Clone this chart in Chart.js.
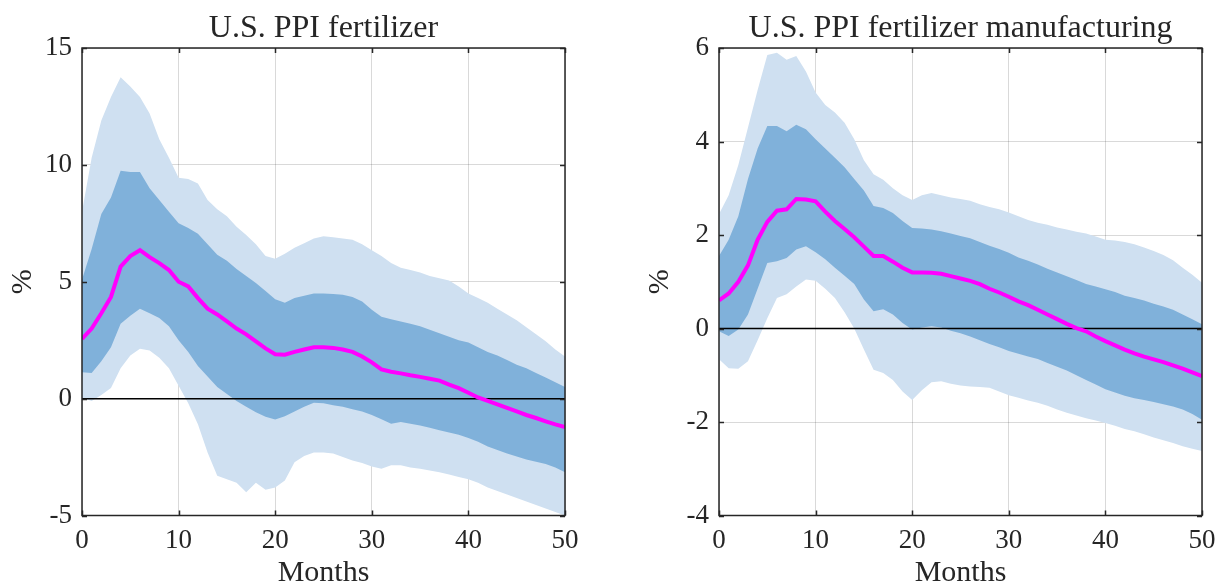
<!DOCTYPE html>
<html>
<head>
<meta charset="utf-8">
<script src="https://cdn.jsdelivr.net/npm/chart.js@4"></script>
<style>
  html, body { margin: 0; padding: 0; background: #fff; }
  .wrap { display: flex; width: 1225px; height: 585px; }
  .panel { position: relative; height: 585px; }
</style>
</head>
<body>
<div class="wrap">
  <div class="panel" style="width:612px"><canvas id="chartLeft"></canvas></div>
  <div class="panel" style="width:613px"><canvas id="chartRight"></canvas></div>
</div>
<script>
// horizon in months
const months = [0,1,2,3,4,5,6,7,8,9,10,11,12,13,14,15,16,17,18,19,20,21,22,23,24,25,
  26,27,28,29,30,31,32,33,34,35,36,37,38,39,40,41,42,43,44,45,46,47,48,49,50];
const xTicks = [0, 10, 20, 30, 40, 50];

// U.S. PPI fertilizer
const leftTicks = [-5, 0, 5, 10, 15];
const leftMedian = [2.55,3.0,3.65,4.35,5.65,6.1,6.35,6.05,5.8,5.5,5.0,
  4.8,4.3,3.85,3.6,3.3,3.0,2.75,2.45,2.15,1.9,
  1.88,2.0,2.1,2.2,2.2,2.17,2.1,2.0,1.8,1.55,
  1.25,1.15,1.08,1.0,0.93,0.85,0.77,0.6,0.45,0.25,
  0.05,-0.1,-0.25,-0.4,-0.55,-0.7,-0.83,-0.97,-1.1,-1.22];
const leftDarkHi = [5.1,6.4,7.9,8.6,9.75,9.7,9.7,9.0,8.5,8.0,7.5,
  7.3,7.05,6.6,6.15,5.9,5.55,5.25,4.95,4.6,4.25,
  4.1,4.3,4.4,4.5,4.5,4.48,4.44,4.35,4.15,3.8,
  3.5,3.4,3.3,3.2,3.1,2.95,2.8,2.65,2.5,2.4,
  2.2,2.0,1.85,1.65,1.45,1.3,1.1,0.9,0.7,0.5];
const leftDarkLo = [1.13,1.1,1.6,2.2,3.2,3.55,3.85,3.65,3.45,3.1,2.5,
  2.0,1.4,0.95,0.5,0.2,-0.1,-0.35,-0.58,-0.78,-0.89,
  -0.75,-0.55,-0.35,-0.18,-0.2,-0.28,-0.35,-0.45,-0.55,-0.7,
  -0.88,-1.08,-1.0,-1.08,-1.15,-1.25,-1.35,-1.45,-1.55,-1.68,
  -1.85,-2.05,-2.2,-2.35,-2.48,-2.6,-2.7,-2.8,-2.95,-3.15];
const leftLightHi = [8.0,10.3,11.9,12.9,13.75,13.35,12.9,12.2,11.1,10.3,9.45,
  9.4,9.2,8.5,8.1,7.8,7.35,7.0,6.6,6.1,5.98,
  6.2,6.45,6.65,6.85,6.95,6.9,6.85,6.8,6.6,6.35,
  6.1,5.8,5.6,5.5,5.4,5.25,5.15,5.05,4.8,4.5,
  4.3,4.1,3.85,3.6,3.35,3.05,2.75,2.45,2.1,1.8];
const leftLightLo = [0.05,-0.1,0.15,0.45,1.3,1.85,2.13,2.06,1.75,1.3,0.55,
  -0.2,-1.1,-2.3,-3.3,-3.45,-3.6,-4.0,-3.6,-3.9,-3.8,
  -3.5,-2.72,-2.45,-2.3,-2.3,-2.35,-2.5,-2.65,-2.75,-2.9,
  -3.0,-2.85,-2.85,-2.95,-3.0,-3.08,-3.15,-3.25,-3.35,-3.45,
  -3.6,-3.8,-3.95,-4.1,-4.25,-4.4,-4.55,-4.7,-4.85,-5.0];

// U.S. PPI fertilizer manufacturing
const rightTicks = [-4, -2, 0, 2, 4, 6];
const rightMedian = [0.6,0.75,1.0,1.35,1.9,2.28,2.52,2.55,2.77,2.76,2.72,
  2.5,2.3,2.13,1.95,1.75,1.55,1.55,1.43,1.3,1.2,
  1.2,1.19,1.17,1.12,1.07,1.02,0.95,0.85,0.77,0.68,
  0.58,0.5,0.4,0.3,0.2,0.1,0.01,-0.06,-0.17,-0.27,
  -0.36,-0.45,-0.53,-0.6,-0.66,-0.72,-0.79,-0.86,-0.94,-1.02];
const rightDarkHi = [1.55,1.9,2.4,3.2,3.85,4.33,4.33,4.22,4.36,4.26,4.05,
  3.85,3.65,3.45,3.2,2.95,2.62,2.58,2.47,2.3,2.15,
  2.14,2.12,2.08,2.03,1.98,1.93,1.85,1.77,1.7,1.62,
  1.52,1.45,1.37,1.28,1.2,1.12,1.04,0.95,0.9,0.84,
  0.78,0.7,0.65,0.6,0.53,0.47,0.4,0.3,0.2,0.09];
const rightDarkLo = [-0.06,-0.16,-0.02,0.3,0.85,1.4,1.44,1.51,1.69,1.76,1.63,
  1.48,1.3,1.13,0.95,0.62,0.37,0.41,0.3,0.12,-0.02,
  0.02,0.05,0.02,-0.05,-0.1,-0.17,-0.25,-0.33,-0.4,-0.48,
  -0.54,-0.6,-0.65,-0.74,-0.82,-0.9,-1.0,-1.1,-1.2,-1.3,
  -1.37,-1.44,-1.49,-1.53,-1.57,-1.62,-1.67,-1.73,-1.83,-1.95];
const rightLightHi = [2.45,2.85,3.5,4.3,5.1,5.85,5.9,5.75,5.83,5.5,5.05,
  4.78,4.62,4.4,4.05,3.6,3.3,3.18,3.0,2.85,2.75,
  2.85,2.9,2.85,2.8,2.77,2.73,2.66,2.6,2.55,2.48,
  2.4,2.32,2.26,2.22,2.16,2.12,2.07,2.03,1.97,1.9,
  1.88,1.85,1.8,1.73,1.66,1.57,1.46,1.3,1.15,0.98];
const rightLightLo = [-0.66,-0.85,-0.86,-0.7,-0.25,0.22,0.65,0.73,0.9,1.05,1.02,
  0.85,0.65,0.35,0.0,-0.45,-0.88,-0.95,-1.1,-1.35,-1.53,
  -1.32,-1.15,-1.13,-1.18,-1.22,-1.24,-1.25,-1.27,-1.35,-1.43,
  -1.48,-1.54,-1.59,-1.65,-1.73,-1.8,-1.86,-1.92,-1.97,-2.02,
  -2.08,-2.15,-2.2,-2.26,-2.33,-2.39,-2.45,-2.52,-2.57,-2.62];

const zeros = months.map(() => 0);

const axisColor = '#262626';
const lightBlue = '#cfe0f1';
const darkBlue = '#80b1da';
const serif = '"Liberation Serif", "Times New Roman", serif';

const pts = (vals) => months.map((m, i) => ({ x: m, y: vals[i] }));

// box round the axes with inward tick marks, like the original
const boxPlugin = {
  id: 'boxAxes',
  afterDraw(chart) {
    const { ctx, chartArea: a, scales } = chart;
    ctx.save();
    ctx.strokeStyle = axisColor;
    ctx.lineWidth = 1.5;
    ctx.strokeRect(a.left, a.top, a.right - a.left, a.bottom - a.top);
    ctx.beginPath();
    scales.x.ticks.forEach(t => {
      const px = Math.round(scales.x.getPixelForValue(t.value)) + 0.5;
      ctx.moveTo(px, a.bottom); ctx.lineTo(px, a.bottom - 5);
      ctx.moveTo(px, a.top); ctx.lineTo(px, a.top + 5);
    });
    scales.y.ticks.forEach(t => {
      const py = Math.round(scales.y.getPixelForValue(t.value)) + 0.5;
      ctx.moveTo(a.left, py); ctx.lineTo(a.left + 5, py);
      ctx.moveTo(a.right, py); ctx.lineTo(a.right - 5, py);
    });
    ctx.stroke();
    ctx.restore();
  }
};

function band(vals, color, fill, order) {
  return { data: pts(vals), borderWidth: 0, pointRadius: 0, backgroundColor: color,
           borderColor: color, fill: fill, order: order, tension: 0 };
}

function makePanel(id, title, yTicks, median, dHi, dLo, lHi, lLo, yAxisW, titlePad, padRight) {
  return new Chart(document.getElementById(id), {
    type: 'line',
    data: {
      datasets: [
        { data: pts(median), borderColor: '#ff00ff', borderWidth: 4, pointRadius: 0,
          fill: false, order: 0, tension: 0 },
        { data: pts(zeros), borderColor: '#000', borderWidth: 1.5, pointRadius: 0,
          fill: false, order: 1 },
        band(dHi, darkBlue, '+1', 2),
        band(dLo, darkBlue, false, 3),
        band(lHi, lightBlue, '+1', 4),
        band(lLo, lightBlue, false, 5)
      ]
    },
    options: {
      responsive: true,
      maintainAspectRatio: false,
      animation: false,
      layout: { padding: { top: 0, right: padRight, bottom: 0, left: 0 } },
      plugins: {
        legend: { display: false },
        tooltip: { enabled: false },
        title: {
          display: true, text: title, color: axisColor, fullSize: false,
          font: { family: serif, size: 32, weight: 'normal', lineHeight: 1 },
          padding: { top: 13, bottom: 3 }
        }
      },
      scales: {
        x: {
          type: 'linear', min: 0, max: 50, z: 1,
          afterBuildTicks: s => { s.ticks = xTicks.map(v => ({ value: v })); },
          afterFit: s => { s.height = 69.5; },
          grid: { color: 'rgba(0,0,0,0.15)', drawTicks: false },
          border: { display: false },
          ticks: { color: axisColor, padding: 9, maxRotation: 0,
                   font: { family: serif, size: 27 } },
          title: { display: true, text: 'Months', color: axisColor, padding: 0,
                   font: { family: serif, size: 30, lineHeight: 0.8 } }
        },
        y: {
          type: 'linear', min: yTicks[0], max: yTicks[yTicks.length - 1], z: 1,
          afterBuildTicks: s => { s.ticks = yTicks.map(v => ({ value: v })); },
          afterFit: s => { s.width = yAxisW; },
          grid: { color: 'rgba(0,0,0,0.15)', drawTicks: false },
          border: { display: false },
          ticks: { color: axisColor, padding: 10,
                   font: { family: serif, size: 27 } },
          title: { display: true, text: '%', color: axisColor,
                   padding: { top: titlePad, bottom: 0 },
                   font: { family: serif, size: 30, lineHeight: 1 } }
        }
      }
    },
    plugins: [boxPlugin]
  });
}

makePanel('chartLeft', 'U.S. PPI fertilizer', leftTicks, leftMedian,
  leftDarkHi, leftDarkLo, leftLightHi, leftLightLo, 82, 8, 47);
makePanel('chartRight', 'U.S. PPI fertilizer manufacturing', rightTicks, rightMedian,
  rightDarkHi, rightDarkLo, rightLightHi, rightLightLo, 107, 33, 23);
</script>
</body>
</html>
